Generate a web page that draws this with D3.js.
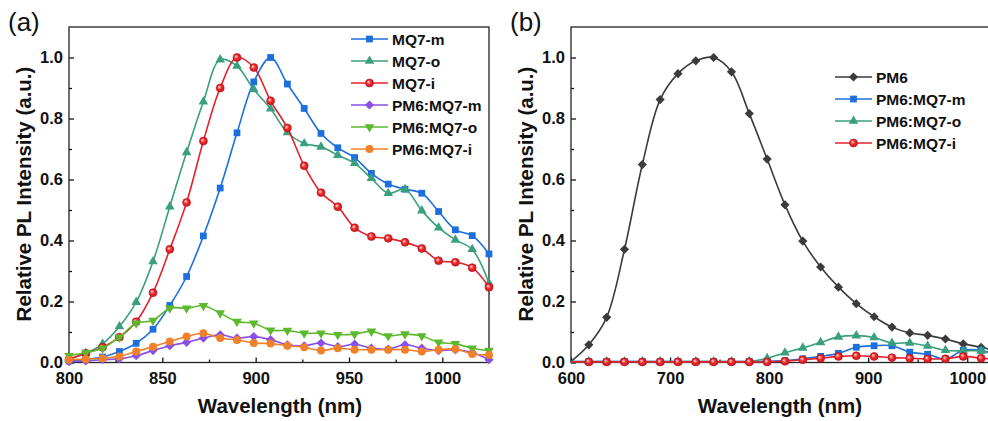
<!DOCTYPE html>
<html>
<head>
<meta charset="utf-8">
<script src="https://cdnjs.cloudflare.com/ajax/libs/d3/7.8.5/d3.min.js"></script>
<style>
  body { margin: 0; background: #fff; }
  svg { display: block; font-family: "Liberation Sans", Arial, sans-serif; }
  .tick text { font-size: 16.5px; font-weight: bold; fill: #111; }
  .domain { display: none; }
</style>
</head>
<body>
<svg id="chart" width="988" height="421"></svg>
<script>
// Panel (a) data - wavelengths and relative PL
const wlA = [800, 809, 818, 827, 836, 845, 854, 863, 872, 881, 890, 899, 908,
             917, 926, 935, 944, 953, 962, 971, 980, 989, 998, 1007, 1016, 1025];
const mq7m = [0.005, 0.010, 0.018, 0.036, 0.063, 0.109, 0.187, 0.282, 0.415, 0.572, 0.753, 0.920, 1.000,
              0.913, 0.833, 0.751, 0.704, 0.672, 0.620, 0.585, 0.568, 0.555, 0.495, 0.435, 0.416, 0.356];
const mq7o = [0.012, 0.030, 0.061, 0.118, 0.198, 0.331, 0.511, 0.689, 0.855, 0.993, 0.972, 0.895, 0.832,
              0.754, 0.718, 0.707, 0.680, 0.653, 0.604, 0.555, 0.568, 0.498, 0.442, 0.402, 0.371, 0.260];
const mq7i = [0.010, 0.030, 0.050, 0.083, 0.134, 0.229, 0.371, 0.525, 0.726, 0.900, 1.000, 0.967, 0.858,
              0.769, 0.645, 0.557, 0.511, 0.442, 0.413, 0.407, 0.394, 0.374, 0.334, 0.329, 0.311, 0.247];
const blendM = [0.003, 0.005, 0.009, 0.012, 0.022, 0.039, 0.055, 0.066, 0.080, 0.091, 0.080, 0.085, 0.075,
                0.058, 0.055, 0.064, 0.052, 0.060, 0.047, 0.044, 0.058, 0.047, 0.039, 0.042, 0.033, 0.009];
const blendO = [0.022, 0.033, 0.047, 0.083, 0.129, 0.138, 0.178, 0.178, 0.186, 0.162, 0.134, 0.129, 0.106,
                0.105, 0.096, 0.096, 0.091, 0.093, 0.102, 0.087, 0.093, 0.087, 0.066, 0.061, 0.047, 0.039];
const blendI = [0.009, 0.011, 0.014, 0.020, 0.036, 0.052, 0.069, 0.085, 0.096, 0.080, 0.074, 0.064, 0.062,
                0.055, 0.050, 0.039, 0.047, 0.042, 0.042, 0.042, 0.042, 0.036, 0.042, 0.044, 0.028, 0.025];

// Panel (b) data
const wlB = [600, 618, 636, 654, 672, 690, 708, 726, 744, 762, 780, 798, 816,
             834, 852, 870, 888, 906, 924, 942, 960, 978, 996, 1014, 1032];
const pm6 = [0.003, 0.058, 0.148, 0.371, 0.649, 0.862, 0.947, 0.989, 1.000, 0.953, 0.816, 0.667, 0.517,
             0.398, 0.313, 0.247, 0.193, 0.150, 0.116, 0.097, 0.089, 0.077, 0.061, 0.050, 0.035];
const pm6m = [0.003, 0.003, 0.003, 0.003, 0.003, 0.003, 0.003, 0.003, 0.003, 0.003, 0.003, 0.004, 0.006,
              0.012, 0.020, 0.030, 0.050, 0.055, 0.055, 0.034, 0.027, 0.011, 0.040, 0.040, 0.020];
const pm6o = [0.003, 0.003, 0.003, 0.003, 0.003, 0.003, 0.003, 0.003, 0.003, 0.003, 0.004, 0.014, 0.032,
              0.048, 0.066, 0.084, 0.088, 0.082, 0.064, 0.064, 0.054, 0.040, 0.038, 0.038, 0.020];
const pm6i = [0.002, 0.002, 0.002, 0.002, 0.002, 0.002, 0.002, 0.002, 0.002, 0.002, 0.002, 0.002, 0.004,
              0.009, 0.014, 0.020, 0.022, 0.020, 0.016, 0.014, 0.012, 0.012, 0.020, 0.014, 0.010];

const yTicks = [0, 0.2, 0.4, 0.6, 0.8, 1.0];
const yMinor = [0.1, 0.3, 0.5, 0.7, 0.9];

const svg = d3.select("#chart");

// red "ball" markers have a little highlight in the original
const defs = svg.append("defs");
const grad = defs.append("radialGradient").attr("id", "redBall")
  .attr("cx", 0.5).attr("cy", 0.5).attr("r", 0.6).attr("fx", 0.35).attr("fy", 0.35);
grad.append("stop").attr("offset", "0%").attr("stop-color", "#ffe0e0");
grad.append("stop").attr("offset", "45%").attr("stop-color", "#ee2a2a");
grad.append("stop").attr("offset", "100%").attr("stop-color", "#c8101a");

// marker builders
const markers = {
  square:   { type: d3.symbolSquare,   size: 46, rot: 0 },
  triangle: { type: d3.symbolTriangle, size: 40, rot: 0 },
  tridown:  { type: d3.symbolTriangle, size: 40, rot: 180 },
  circle:   { type: d3.symbolCircle,   size: 50, rot: 0 },
  diamond:  { type: d3.symbolSquare,   size: 42, rot: 45 }
};

function drawMarker(g, kind, x, y, color, fill) {
  const m = markers[kind];
  g.append("path")
    .attr("d", d3.symbol().type(m.type).size(m.size)())
    .attr("transform", "translate(" + x + "," + y + ") rotate(" + m.rot + ")")
    .attr("fill", fill || color)
    .attr("stroke", kind === "circle" && fill ? "#b0101a" : "none")
    .attr("stroke-width", 0.6);
}

function drawPanel(opt) {
  const x = d3.scaleLinear().domain(opt.xDomain).range(opt.xRange);
  const y = d3.scaleLinear().domain([0, 1.1]).range([362.5, 27]);
  const g = svg.append("g");

  // x axis (ticks point inward)
  g.append("g").attr("transform", "translate(0,362.5)")
    .call(d3.axisBottom(x).tickValues(opt.xTicks).tickFormat(d3.format("d"))
      .tickSizeInner(-5).tickSizeOuter(0).tickPadding(10))
    .call(a => a.selectAll("line").attr("stroke", "#111").attr("stroke-width", 1.3));
  g.append("g").attr("transform", "translate(0,362.5)")
    .call(d3.axisBottom(x).tickValues(opt.xMinor).tickFormat("").tickSizeInner(-3).tickSizeOuter(0))
    .call(a => a.selectAll("line").attr("stroke", "#111").attr("stroke-width", 1.3));

  // y axis
  g.append("g").attr("transform", "translate(" + opt.xRange[0] + ",0)")
    .call(d3.axisLeft(y).tickValues(yTicks).tickFormat(d3.format(".1f")).tickSizeInner(-5).tickSizeOuter(0).tickPadding(6))
    .call(a => a.selectAll("line").attr("stroke", "#111").attr("stroke-width", 1.3));
  g.append("g").attr("transform", "translate(" + opt.xRange[0] + ",0)")
    .call(d3.axisLeft(y).tickValues(yMinor).tickFormat("").tickSizeInner(-3).tickSizeOuter(0))
    .call(a => a.selectAll("line").attr("stroke", "#111").attr("stroke-width", 1.3));

  // frame
  g.append("rect")
    .attr("x", opt.xRange[0]).attr("y", 27)
    .attr("width", opt.xRange[1] - opt.xRange[0]).attr("height", 362.5 - 27)
    .attr("fill", "none").attr("stroke", "#222").attr("stroke-width", 1.3);

  const line = d3.line()
    .x((d, i) => x(opt.wl[i]))
    .y(d => y(d))
    .curve(d3.curveCatmullRom.alpha(0.5));

  // series in plot order, later ones on top
  opt.series.forEach(s => {
    g.append("path").datum(s.values)
      .attr("d", line)
      .attr("fill", "none")
      .attr("stroke", s.color)
      .attr("stroke-width", 1.6);
    const mg = g.append("g");
    s.values.forEach((v, i) => {
      if (i < opt.firstMarker) return; // no symbol sitting on the axis corner
      drawMarker(mg, s.marker, x(opt.wl[i]), y(v), s.color, s.fill);
    });
  });

  // legend
  opt.series.forEach((s, i) => {
    const ly = opt.legY + i * 22;
    g.append("line")
      .attr("x1", opt.legX).attr("x2", opt.legX + 37)
      .attr("y1", ly).attr("y2", ly)
      .attr("stroke", s.color).attr("stroke-width", 1.6);
    drawMarker(g, s.marker, opt.legX + 18.5, ly, s.color, s.fill);
    g.append("text")
      .attr("x", opt.legX + 41).attr("y", ly).attr("dy", "0.36em")
      .attr("font-size", 15.5).attr("font-weight", "bold").attr("fill", "#111")
      .text(s.name);
  });

  // axis titles
  g.append("text")
    .attr("x", opt.titleX)
    .attr("y", 413).attr("text-anchor", "middle")
    .attr("font-size", 20.5).attr("font-weight", "bold").attr("fill", "#111")
    .text("Wavelength (nm)");
  g.append("text")
    .attr("transform", "translate(" + (opt.xRange[0] - 38) + ",194) rotate(-90)")
    .attr("text-anchor", "middle")
    .attr("font-size", 20.5).attr("font-weight", "bold").attr("fill", "#111")
    .text("Relative PL Intensity (a.u.)");

  // panel letter
  g.append("text")
    .attr("x", opt.xRange[0] - 61).attr("y", 31)
    .attr("font-size", 26).attr("fill", "#111")
    .text(opt.letter);
}

drawPanel({
  letter: "(a)",
  xDomain: [800, 1025], xRange: [69, 489],
  xTicks: [800, 850, 900, 950, 1000], xMinor: [825, 875, 925, 975, 1025],
  titleX: 280,
  wl: wlA, firstMarker: 0,
  legX: 351, legY: 39,
  series: [
    { name: "MQ7-m",     values: mq7m,   color: "#1c6fdc", marker: "square" },
    { name: "MQ7-o",     values: mq7o,   color: "#3a9f7f", marker: "triangle" },
    { name: "MQ7-i",     values: mq7i,   color: "#e5202a", marker: "circle", fill: "url(#redBall)" },
    { name: "PM6:MQ7-m", values: blendM, color: "#8a4fe6", marker: "diamond" },
    { name: "PM6:MQ7-o", values: blendO, color: "#5cb82c", marker: "tridown" },
    { name: "PM6:MQ7-i", values: blendI, color: "#f0802a", marker: "circle" }
  ]
});

drawPanel({
  letter: "(b)",
  xDomain: [600, 1025], xRange: [571, 992],
  xTicks: [600, 700, 800, 900, 1000], xMinor: [650, 750, 850, 950],
  titleX: 780,
  wl: wlB, firstMarker: 1,
  legX: 835, legY: 77,
  series: [
    { name: "PM6",       values: pm6,  color: "#3b3b3b", marker: "diamond" },
    { name: "PM6:MQ7-m", values: pm6m, color: "#1c6fdc", marker: "square" },
    { name: "PM6:MQ7-o", values: pm6o, color: "#3a9f7f", marker: "triangle" },
    { name: "PM6:MQ7-i", values: pm6i, color: "#e5202a", marker: "circle", fill: "url(#redBall)" }
  ]
});
</script>
</body>
</html>
